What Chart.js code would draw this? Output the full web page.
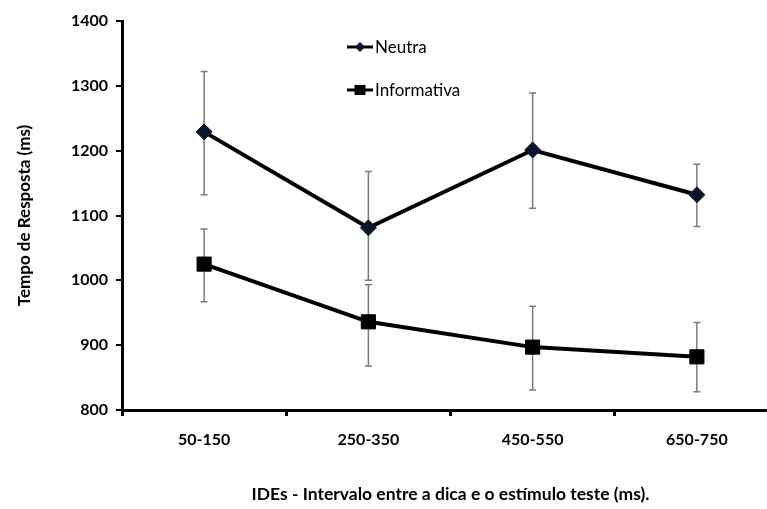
<!DOCTYPE html>
<html>
<head>
<meta charset="utf-8">
<script src="https://cdn.jsdelivr.net/npm/chart.js@4/dist/chart.umd.min.js"></script>
<style>
html,body{margin:0;padding:0;background:#fff;overflow:hidden;}
#wrap{width:790px;height:509px;position:relative;}
</style>
</head>
<body>
<div id="wrap"><canvas id="c"></canvas></div>
<script>
const categories = ['50-150', '250-350', '450-550', '650-750'];
const neutra = [1229, 1081, 1201, 1132];
const neutraUpper = [1322, 1168, 1289, 1179];
const neutraLower = [1132, 1000, 1111, 1083];
const informativa = [1025, 936, 897, 882];
const informativaUpper = [1079, 993, 960, 935];
const informativaLower = [967, 868, 831, 828];
const yTicks = [800, 900, 1000, 1100, 1200, 1300, 1400];

const FONT = 'Lato, "Open Sans", sans-serif';

const errorBars = {
  id: 'errorBars',
  beforeDatasetsDraw(chart) {
    const ctx = chart.ctx, x = chart.scales.x, y = chart.scales.y;
    const sets = [[neutraUpper, neutraLower], [informativaUpper, informativaLower]];
    ctx.save();
    ctx.strokeStyle = '#7a7a7a';
    ctx.lineWidth = 1.5;
    sets.forEach(([up, lo]) => {
      up.forEach((u, i) => {
        const px = x.getPixelForValue(i);
        const pt = y.getPixelForValue(u), pb = y.getPixelForValue(lo[i]);
        ctx.beginPath();
        ctx.moveTo(px, pt); ctx.lineTo(px, pb);
        ctx.moveTo(px - 3.5, pt); ctx.lineTo(px + 3.5, pt);
        ctx.moveTo(px - 3.5, pb); ctx.lineTo(px + 3.5, pb);
        ctx.stroke();
      });
    });
    ctx.restore();
  }
};

const legendPlugin = {
  id: 'customLegend',
  afterDraw(chart) {
    const ctx = chart.ctx;
    ctx.save();
    ctx.font = '17px ' + FONT;
    ctx.textBaseline = 'middle';
    const items = [
      {label: chart.data.datasets[0].label, y: 47, type: 'diamond'},
      {label: chart.data.datasets[1].label, y: 90, type: 'square'}
    ];
    items.forEach(it => {
      ctx.strokeStyle = '#000';
      ctx.lineWidth = 3;
      ctx.beginPath(); ctx.moveTo(347, it.y); ctx.lineTo(373, it.y); ctx.stroke();
      if (it.type === 'diamond') {
        ctx.fillStyle = '#0b1530';
        ctx.beginPath();
        ctx.moveTo(360, it.y - 5); ctx.lineTo(365, it.y); ctx.lineTo(360, it.y + 5); ctx.lineTo(355, it.y);
        ctx.closePath(); ctx.fill();
      } else {
        ctx.fillStyle = '#000';
        ctx.fillRect(354.5, it.y - 5, 11, 10);
      }
      ctx.fillStyle = '#000';
      ctx.fillText(it.label, 375, it.y + 1);
    });
    ctx.restore();
  }
};

new Chart(document.getElementById('c'), {
  type: 'line',
  data: {
    labels: categories,
    datasets: [
      {label: 'Neutra', data: neutra, borderColor: '#000', borderWidth: 4,
       pointStyle: 'rectRot', pointRadius: 8, pointHoverRadius: 8,
       pointBackgroundColor: '#0b1530', pointBorderColor: '#0b1530', pointBorderWidth: 1, tension: 0},
      {label: 'Informativa', data: informativa, borderColor: '#000', borderWidth: 4,
       pointStyle: 'rect', pointRadius: 10, pointHoverRadius: 10,
       pointBackgroundColor: '#000', pointBorderColor: '#000', pointBorderWidth: 1, tension: 0}
    ]
  },
  options: {
    responsive: true,
    maintainAspectRatio: false,
    animation: false,
    layout: {padding: {top: 21, left: 0, right: 0, bottom: 0}},
    plugins: {legend: {display: false}, tooltip: {enabled: false}},
    scales: {
      x: {
        offset: true,
        afterFit(s) { s.height = 99; },
        grid: {offset: true, drawOnChartArea: false, drawTicks: true, tickLength: 6, color: '#000', lineWidth: 3},
        border: {display: true, color: '#000', width: 3},
        ticks: {color: '#000', font: {family: FONT, size: 16, weight: 'bold'}, padding: 14, maxRotation: 0},
        title: {display: true, text: 'IDEs - Intervalo entre a dica e o estímulo teste (ms).', color: '#000',
                font: {family: FONT, size: 17.5, weight: 'bold'}, padding: {top: 0, bottom: 4}}
      },
      y: {
        min: 800, max: 1400,
        afterFit(s) { s.width = 122; },
        afterBuildTicks(s) { s.ticks = yTicks.map(v => ({value: v})); },
        grid: {drawOnChartArea: false, drawTicks: true, tickLength: 6, color: '#000', lineWidth: 2},
        border: {display: true, color: '#000', width: 3},
        ticks: {color: '#000', font: {family: FONT, size: 16, weight: 'bold'}, padding: 8,
                callback: v => String(v)},
        title: {display: true, text: 'Tempo de Resposta (ms)', color: '#000',
                font: {family: FONT, size: 17, weight: 'bold'}, padding: {top: 14, bottom: 0}}
      }
    }
  },
  plugins: [errorBars, legendPlugin]
});
</script>
</body>
</html>
